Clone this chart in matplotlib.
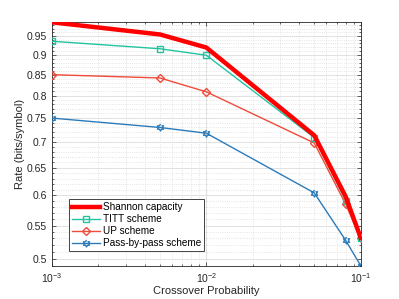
import numpy as np
import matplotlib
matplotlib.use("Agg")
import matplotlib.pyplot as plt
from matplotlib.ticker import FixedLocator, NullFormatter, LogLocator, LogFormatterMathtext

plt.rcParams['font.family'] = ['Liberation Sans', 'DejaVu Sans']

p = [0.001, 0.005, 0.01, 0.05, 0.08, 0.1]
shannon = [0.9886, 0.9546, 0.9192, 0.7136, 0.5978, 0.531]
titt = [0.936, 0.916, 0.899, 0.709, 0.591, 0.531]
up = [0.850, 0.842, 0.809, 0.698, 0.585, 0.530]
pbp = [0.750, 0.730, 0.718, 0.6045, 0.527, 0.490]
yticks = [0.5, 0.55, 0.6, 0.65, 0.7, 0.75, 0.8, 0.85, 0.9, 0.95]
yticklabels = ['0.5', '0.55', '0.6', '0.65', '0.7', '0.75', '0.8', '0.85', '0.9', '0.95']

# hexagram marker
ang = np.pi / 2 + np.arange(12) * np.pi / 6
rad = np.where(np.arange(12) % 2 == 0, 1.0, 0.577)
hexverts = list(zip(rad * np.cos(ang), rad * np.sin(ang)))

fig = plt.figure(figsize=(3.99, 2.99), dpi=100)
ax = fig.add_axes([52/399, 1 - 265.7/299, 308.7/399, 243.4/299])

ax.plot(p, shannon, color='#FF0000', lw=3.2, label='Shannon capacity', zorder=5)
ax.plot(p, titt, color='#22C4A0', lw=1.0, marker='s', ms=4, mfc='none', mew=1.0, label='TITT scheme', zorder=4)
ax.plot(p, up, color='#F04A3A', lw=1.0, marker='D', ms=4, mfc='none', mew=1.0, label='UP scheme', zorder=3)
ax.plot(p, pbp, color='#2B7BBA', lw=1.0, marker=hexverts, ms=5, mfc='none', mew=1.0, label='Pass-by-pass scheme', zorder=3)

ax.set_xscale('log')
ax.set_yscale('log')
ax.set_xlim(1e-3, 1e-1)
ax.set_ylim(min(pbp), max(shannon))

ax.xaxis.set_major_locator(LogLocator(base=10, numticks=10))
ax.xaxis.set_major_formatter(LogFormatterMathtext())
ax.xaxis.set_minor_locator(LogLocator(base=10, subs=np.arange(2, 10), numticks=20))
ax.xaxis.set_minor_formatter(NullFormatter())

ax.yaxis.set_major_locator(FixedLocator(yticks))
ax.set_yticklabels(yticklabels)
ax.yaxis.set_minor_locator(FixedLocator([round(v, 2) for v in np.arange(0.49, 1.0, 0.01)]))
ax.yaxis.set_minor_formatter(NullFormatter())

ax.grid(True, which='major', color='#DCDCDC', lw=0.6, ls='-')
ax.grid(True, which='minor', color='#DCDCDC', lw=0.6, ls=':')
ax.set_axisbelow(True)

for s in ax.spines.values():
    s.set_color('#262626')
    s.set_linewidth(0.6)
ax.tick_params(which='both', direction='in', top=True, right=True, colors='#262626', labelsize=7.5, width=0.5)
ax.tick_params(which='major', length=3)
ax.tick_params(which='minor', length=1.5)
ax.tick_params(axis='x', pad=4)

ax.set_xlabel('Crossover Probability', fontsize=8, color='#262626', labelpad=1)
ax.set_ylabel('Rate (bits/symbol)', fontsize=8, color='#262626', labelpad=1)

leg = ax.legend(loc='lower left', bbox_to_anchor=(0.055, 0.06), fontsize=7.2, frameon=True,
                fancybox=False, edgecolor='#262626', framealpha=1, borderpad=0.3,
                labelspacing=0.2, handlelength=2.8, handletextpad=0.3, borderaxespad=0)
leg.get_frame().set_linewidth(0.6)

fig.savefig('out.png', dpi=100)
